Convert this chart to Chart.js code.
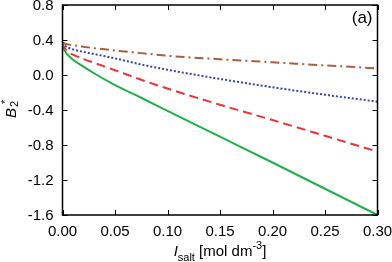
<!DOCTYPE html>
<html>
<head>
<meta charset="utf-8">
<script src="https://cdn.jsdelivr.net/npm/chart.js@4.4.1/dist/chart.umd.min.js"></script>
<style>
  html, body { margin: 0; padding: 0; background: #fff; }
  #wrap { width: 392px; height: 262px; }
</style>
</head>
<body>
<div id="wrap"><canvas id="chart" width="392" height="262"></canvas></div>
<script>
// ionic strength values (mol dm-3)
const saltValues = [0, 0.001, 0.0025, 0.005, 0.01, 0.02, 0.03, 0.05, 0.075, 0.1, 0.15, 0.2, 0.25, 0.3];

// B2* curves
const greenSeries = [0.37, 0.31, 0.27, 0.23, 0.175, 0.095, 0.02, -0.115, -0.26, -0.41, -0.705, -1.0, -1.3, -1.6];
const redSeries   = [0.37, 0.33, 0.30, 0.268, 0.232, 0.182, 0.14, 0.055, -0.055, -0.155, -0.34, -0.515, -0.695, -0.876];
const blueSeries  = [0.37, 0.35, 0.335, 0.315, 0.293, 0.264, 0.24, 0.19, 0.12, 0.06, -0.045, -0.14, -0.225, -0.305];
const brownSeries = [0.37, 0.365, 0.358, 0.35, 0.34, 0.323, 0.307, 0.28, 0.25, 0.22, 0.18, 0.145, 0.11, 0.076];

const xTicks = [0, 0.05, 0.1, 0.15, 0.2, 0.25, 0.3];
const yTicks = [0.8, 0.4, 0, -0.4, -0.8, -1.2, -1.6];

const FONT = "Liberation Sans, Arial, Helvetica, sans-serif";

function toPoints(ys) {
  return saltValues.map((x, i) => ({ x: x, y: ys[i] }));
}

// frame, inward ticks, tick labels, axis titles and panel label
const framePlugin = {
  id: "frame",
  afterDraw(chart) {
    const { ctx, chartArea: a, scales } = chart;
    ctx.save();
    ctx.strokeStyle = "#000";
    ctx.lineWidth = 1.5;
    ctx.strokeRect(a.left, a.top, a.right - a.left, a.bottom - a.top);

    ctx.lineWidth = 1;
    ctx.beginPath();
    xTicks.forEach(v => {
      const px = Math.round(scales.x.getPixelForValue(v)) + 0.5;
      ctx.moveTo(px, a.bottom); ctx.lineTo(px, a.bottom - 5);
      ctx.moveTo(px, a.top); ctx.lineTo(px, a.top + 5);
    });
    yTicks.forEach(v => {
      const py = Math.round(scales.y.getPixelForValue(v)) + 0.5;
      ctx.moveTo(a.left, py); ctx.lineTo(a.left + 5, py);
      ctx.moveTo(a.right, py); ctx.lineTo(a.right - 5, py);
    });
    ctx.stroke();

    ctx.fillStyle = "#000";
    const big = "15px " + FONT;
    const bigItalic = "italic 15px " + FONT;
    const small = "11px " + FONT;

    // tick labels
    ctx.font = big;
    ctx.textAlign = "right";
    ctx.textBaseline = "middle";
    yTicks.forEach(v => {
      ctx.fillText(v.toFixed(1), a.left - 9, scales.y.getPixelForValue(v) + 1);
    });
    ctx.textAlign = "center";
    ctx.textBaseline = "top";
    xTicks.forEach(v => {
      ctx.fillText(v.toFixed(2), scales.x.getPixelForValue(v), a.bottom + 9);
    });

    // x title: I_salt [mol dm^-3]
    ctx.textAlign = "left";
    ctx.textBaseline = "alphabetic";
    const parts = [
      { t: "I", f: bigItalic, dy: 0 },
      { t: "salt", f: small, dy: 5 },
      { t: " [mol dm", f: big, dy: 0 },
      { t: "-3", f: small, dy: -7 },
      { t: "]", f: big, dy: 0 }
    ];
    let total = 0;
    parts.forEach(p => { ctx.font = p.f; p.w = ctx.measureText(p.t).width; total += p.w; });
    let x = (a.left + a.right) / 2 - total / 2;
    parts.forEach(p => {
      ctx.font = p.f;
      ctx.fillText(p.t, x, 256 + p.dy);
      x += p.w;
    });

    // y title: B2*
    ctx.translate(16, 118);
    ctx.rotate(-Math.PI / 2);
    ctx.font = bigItalic;
    const wB = ctx.measureText("B").width;
    ctx.fillText("B", 0, 0);
    ctx.font = small;
    ctx.fillText("2", wB + 1, 2);
    ctx.fillText("*", wB + 4, -7);
    ctx.restore();

    // panel label
    ctx.save();
    ctx.font = "17px " + FONT;
    ctx.fillStyle = "#000";
    ctx.textAlign = "right";
    ctx.fillText("(a)", a.right - 5, a.top + 18);
    ctx.restore();
  }
};

const ctx = document.getElementById("chart").getContext("2d");
new Chart(ctx, {
  type: "line",
  data: {
    datasets: [
      { data: toPoints(brownSeries), borderColor: "#a9603f", borderWidth: 2, borderDash: [9, 4, 2, 4] },
      { data: toPoints(blueSeries), borderColor: "#3646a8", borderWidth: 2, borderDash: [2, 2] },
      { data: toPoints(redSeries), borderColor: "#ee3338", borderWidth: 2, borderDash: [9, 5] },
      { data: toPoints(greenSeries), borderColor: "#1db14b", borderWidth: 2 }
    ]
  },
  options: {
    responsive: false,
    animation: false,
    events: [],
    layout: { padding: { top: 5, right: 14.5, left: 0, bottom: 0 } },
    elements: {
      point: { radius: 0 },
      line: { cubicInterpolationMode: "monotone", fill: false }
    },
    plugins: { legend: { display: false }, tooltip: { enabled: false } },
    scales: {
      x: {
        type: "linear",
        min: 0, max: 0.3,
        afterFit: s => { s.height = 47; },
        grid: { display: false, drawTicks: false },
        border: { display: false },
        ticks: { display: false }
      },
      y: {
        type: "linear",
        min: -1.6, max: 0.8,
        afterFit: s => { s.width = 62.5; },
        grid: { display: false, drawTicks: false },
        border: { display: false },
        ticks: { display: false }
      }
    }
  },
  plugins: [framePlugin]
});
</script>
</body>
</html>
